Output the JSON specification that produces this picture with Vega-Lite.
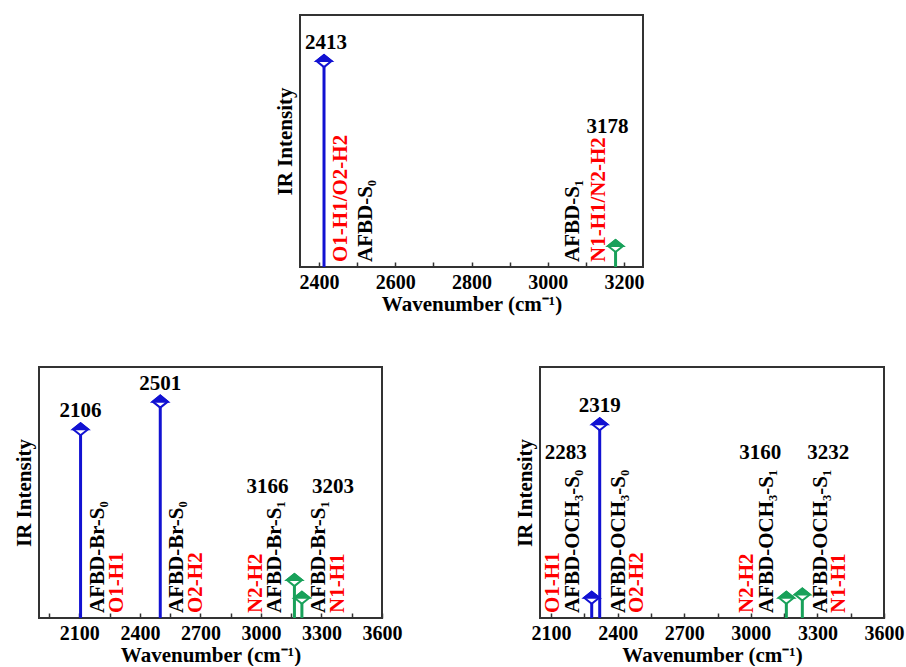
{
  "$schema": "https://vega.github.io/schema/vega-lite/v6.json",
  "background": "white",
  "padding": {"left": 12, "top": 14, "right": 0, "bottom": 0},
  "data": {
    "values": [
      {"panel": "AFBD", "peak": 2413, "intensity": 0.817, "state": "S0", "species": "AFBD-S₀", "bond": "O1-H1/O2-H2", "side": "right"},
      {"panel": "AFBD", "peak": 3178, "intensity": 0.083, "state": "S1", "species": "AFBD-S₁", "bond": "N1-H1/N2-H2", "side": "left"},
      {"panel": "AFBD-Br", "peak": 2106, "intensity": 0.752, "state": "S0", "species": "AFBD-Br-S₀", "bond": "O1-H1", "side": "right"},
      {"panel": "AFBD-Br", "peak": 2501, "intensity": 0.862, "state": "S0", "species": "AFBD-Br-S₀", "bond": "O2-H2", "side": "right"},
      {"panel": "AFBD-Br", "peak": 3166, "intensity": 0.151, "state": "S1", "species": "AFBD-Br-S₁", "bond": "N2-H2", "side": "left"},
      {"panel": "AFBD-Br", "peak": 3203, "intensity": 0.081, "state": "S1", "species": "AFBD-Br-S₁", "bond": "N1-H1", "side": "right"},
      {"panel": "AFBD-OCH3", "peak": 2283, "intensity": 0.081, "state": "S0", "species": "AFBD-OCH₃-S₀", "bond": "O1-H1", "side": "left"},
      {"panel": "AFBD-OCH3", "peak": 2319, "intensity": 0.772, "state": "S0", "species": "AFBD-OCH₃-S₀", "bond": "O2-H2", "side": "right"},
      {"panel": "AFBD-OCH3", "peak": 3160, "intensity": 0.081, "state": "S1", "species": "AFBD-OCH₃-S₁", "bond": "N2-H2", "side": "left"},
      {"panel": "AFBD-OCH3", "peak": 3232, "intensity": 0.094, "state": "S1", "species": "AFBD-OCH₃-S₁", "bond": "N1-H1", "side": "right"}
    ]
  },
  "spacing": 51,
  "vconcat": [
    {
      "bounds": "flush",
      "spacing": 159,
      "hconcat": [
        {
          "width": 102,
          "height": 252,
          "data": {"values": []},
          "mark": {"type": "point", "opacity": 0},
          "view": {"stroke": null}
        },
        {
          "width": 343,
          "height": 252,
          "transform": [{"filter": "datum.panel === 'AFBD'"}],
          "encoding": {
            "x": {"field": "peak", "type": "quantitative", "scale": {"domain": [2350, 3250], "nice": false, "zero": false},
                  "axis": {"title": "Wavenumber (cm⁻¹)", "format": "d", "values": [2400, 2500, 2600, 2700, 2800, 2900, 3000, 3100, 3200], "labelExpr": "datum.value % 200 === 0 ? datum.label : ''"}},
            "y": {"field": "intensity", "type": "quantitative", "scale": {"domain": [0, 1], "nice": false}, "axis": {"title": "IR Intensity"}}
          },
          "layer": [
            {"mark": {"type": "rule", "strokeWidth": 3}, "encoding": {"y2": {"datum": 0}, "color": {"field": "state", "type": "nominal", "scale": {"domain": ["S0", "S1"], "range": ["#1212D2", "#19A15A"]}, "legend": null}}},
            {"mark": {"type": "point", "shape": "M0,-0.8L1,0L0,0.8L-1,0Z", "filled": true, "fill": "white", "strokeWidth": 2, "size": 225, "opacity": 1}, "encoding": {"stroke": {"field": "state", "type": "nominal", "scale": {"domain": ["S0", "S1"], "range": ["#1212D2", "#19A15A"]}, "legend": null}}},
            {"mark": {"type": "point", "shape": "M-1,0L0,-0.8L1,0Z", "filled": true, "strokeWidth": 2, "size": 225, "opacity": 1}, "encoding": {"fill": {"field": "state", "type": "nominal", "scale": {"domain": ["S0", "S1"], "range": ["#1212D2", "#19A15A"]}, "legend": null}, "stroke": {"field": "state", "type": "nominal", "legend": null}}},
            {"transform": [{"filter": "datum.side === 'right'"}], "mark": {"type": "text", "angle": 270, "align": "left", "baseline": "middle", "dx": 5, "dy": 16.5, "color": "#FF0000"}, "encoding": {"y": {"datum": 0}, "text": {"field": "bond"}}},
            {"transform": [{"filter": "datum.side === 'right'"}], "mark": {"type": "text", "angle": 270, "align": "left", "baseline": "middle", "dx": 5, "dy": 42, "color": "#000000"}, "encoding": {"y": {"datum": 0}, "text": {"field": "species"}}},
            {"transform": [{"filter": "datum.side === 'left'"}], "mark": {"type": "text", "angle": 270, "align": "left", "baseline": "middle", "dx": 5, "dy": -17, "color": "#FF0000"}, "encoding": {"y": {"datum": 0}, "text": {"field": "bond"}}},
            {"transform": [{"filter": "datum.side === 'left'"}], "mark": {"type": "text", "angle": 270, "align": "left", "baseline": "middle", "dx": 5, "dy": -43, "color": "#000000"}, "encoding": {"y": {"datum": 0}, "text": {"field": "species"}}},
            {"transform": [{"filter": "datum.intensity > 0.5"}], "mark": {"type": "text", "baseline": "alphabetic", "dy": -12, "dx": 2, "color": "#000000"}, "encoding": {"text": {"field": "peak", "type": "quantitative", "format": "d"}}},
            {"transform": [{"filter": "datum.intensity <= 0.5"}], "mark": {"type": "text", "baseline": "alphabetic", "dx": -8, "color": "#000000"}, "encoding": {"y": {"datum": 0.533}, "text": {"field": "peak", "type": "quantitative", "format": "d"}}}
          ]
        }
      ]
    },
    {
      "bounds": "flush",
      "spacing": 158,
      "hconcat": [
        {
          "width": 343,
          "height": 251,
          "transform": [{"filter": "datum.panel === 'AFBD-Br'"}],
          "encoding": {
            "x": {"field": "peak", "type": "quantitative", "scale": {"domain": [1900, 3600], "nice": false, "zero": false},
                  "axis": {"title": "Wavenumber (cm⁻¹)", "format": "d", "values": [1950, 2100, 2250, 2400, 2550, 2700, 2850, 3000, 3150, 3300, 3450, 3600], "labelExpr": "datum.value % 300 === 0 ? datum.label : ''"}},
            "y": {"field": "intensity", "type": "quantitative", "scale": {"domain": [0, 1], "nice": false}, "axis": {"title": "IR Intensity"}}
          },
          "layer": [
            {"mark": {"type": "rule", "strokeWidth": 3}, "encoding": {"y2": {"datum": 0}, "color": {"field": "state", "type": "nominal", "scale": {"domain": ["S0", "S1"], "range": ["#1212D2", "#19A15A"]}, "legend": null}}},
            {"mark": {"type": "point", "shape": "M0,-0.8L1,0L0,0.8L-1,0Z", "filled": true, "fill": "white", "strokeWidth": 2, "size": 225, "opacity": 1}, "encoding": {"stroke": {"field": "state", "type": "nominal", "scale": {"domain": ["S0", "S1"], "range": ["#1212D2", "#19A15A"]}, "legend": null}}},
            {"mark": {"type": "point", "shape": "M-1,0L0,-0.8L1,0Z", "filled": true, "strokeWidth": 2, "size": 225, "opacity": 1}, "encoding": {"fill": {"field": "state", "type": "nominal", "scale": {"domain": ["S0", "S1"], "range": ["#1212D2", "#19A15A"]}, "legend": null}, "stroke": {"field": "state", "type": "nominal", "legend": null}}},
            {"transform": [{"filter": "datum.side === 'right'"}], "mark": {"type": "text", "angle": 270, "align": "left", "baseline": "middle", "dx": 5, "dy": 17, "color": "#000000"}, "encoding": {"y": {"datum": 0}, "text": {"field": "species"}}},
            {"transform": [{"filter": "datum.side === 'right'"}], "mark": {"type": "text", "angle": 270, "align": "left", "baseline": "middle", "dx": 5, "dy": 36, "color": "#FF0000"}, "encoding": {"y": {"datum": 0}, "text": {"field": "bond"}}},
            {"transform": [{"filter": "datum.side === 'left'"}], "mark": {"type": "text", "angle": 270, "align": "left", "baseline": "middle", "dx": 5, "dy": -19, "color": "#000000"}, "encoding": {"y": {"datum": 0}, "text": {"field": "species"}}},
            {"transform": [{"filter": "datum.side === 'left'"}], "mark": {"type": "text", "angle": 270, "align": "left", "baseline": "middle", "dx": 5, "dy": -38, "color": "#FF0000"}, "encoding": {"y": {"datum": 0}, "text": {"field": "bond"}}},
            {"transform": [{"filter": "datum.intensity > 0.5"}], "mark": {"type": "text", "baseline": "alphabetic", "dy": -12, "color": "#000000"}, "encoding": {"text": {"field": "peak", "type": "quantitative", "format": "d"}}},
            {"transform": [{"filter": "datum.intensity <= 0.5 && datum.side === 'left'"}], "mark": {"type": "text", "baseline": "alphabetic", "align": "right", "dx": -6, "color": "#000000"}, "encoding": {"y": {"datum": 0.499}, "text": {"field": "peak", "type": "quantitative", "format": "d"}}},
            {"transform": [{"filter": "datum.intensity <= 0.5 && datum.side === 'right'"}], "mark": {"type": "text", "baseline": "alphabetic", "align": "left", "dx": 10, "color": "#000000"}, "encoding": {"y": {"datum": 0.499}, "text": {"field": "peak", "type": "quantitative", "format": "d"}}}
          ]
        },
        {
          "width": 344,
          "height": 251,
          "transform": [{"filter": "datum.panel === 'AFBD-OCH3'"}],
          "encoding": {
            "x": {"field": "peak", "type": "quantitative", "scale": {"domain": [2050, 3600], "nice": false, "zero": false},
                  "axis": {"title": "Wavenumber (cm⁻¹)", "format": "d", "values": [2100, 2250, 2400, 2550, 2700, 2850, 3000, 3150, 3300, 3450, 3600], "labelExpr": "datum.value % 300 === 0 ? datum.label : ''"}},
            "y": {"field": "intensity", "type": "quantitative", "scale": {"domain": [0, 1], "nice": false}, "axis": {"title": "IR Intensity"}}
          },
          "layer": [
            {"mark": {"type": "rule", "strokeWidth": 3}, "encoding": {"y2": {"datum": 0}, "color": {"field": "state", "type": "nominal", "scale": {"domain": ["S0", "S1"], "range": ["#1212D2", "#19A15A"]}, "legend": null}}},
            {"mark": {"type": "point", "shape": "M0,-0.8L1,0L0,0.8L-1,0Z", "filled": true, "fill": "white", "strokeWidth": 2, "size": 225, "opacity": 1}, "encoding": {"stroke": {"field": "state", "type": "nominal", "scale": {"domain": ["S0", "S1"], "range": ["#1212D2", "#19A15A"]}, "legend": null}}},
            {"mark": {"type": "point", "shape": "M-1,0L0,-0.8L1,0Z", "filled": true, "strokeWidth": 2, "size": 225, "opacity": 1}, "encoding": {"fill": {"field": "state", "type": "nominal", "scale": {"domain": ["S0", "S1"], "range": ["#1212D2", "#19A15A"]}, "legend": null}, "stroke": {"field": "state", "type": "nominal", "legend": null}}},
            {"transform": [{"filter": "datum.side === 'right'"}], "mark": {"type": "text", "angle": 270, "align": "left", "baseline": "middle", "dx": 5, "dy": 19, "color": "#000000"}, "encoding": {"y": {"datum": 0}, "text": {"field": "species"}}},
            {"transform": [{"filter": "datum.side === 'right'"}], "mark": {"type": "text", "angle": 270, "align": "left", "baseline": "middle", "dx": 5, "dy": 37, "color": "#FF0000"}, "encoding": {"y": {"datum": 0}, "text": {"field": "bond"}}},
            {"transform": [{"filter": "datum.side === 'left'"}], "mark": {"type": "text", "angle": 270, "align": "left", "baseline": "middle", "dx": 5, "dy": -19, "color": "#000000"}, "encoding": {"y": {"datum": 0}, "text": {"field": "species"}}},
            {"transform": [{"filter": "datum.side === 'left'"}], "mark": {"type": "text", "angle": 270, "align": "left", "baseline": "middle", "dx": 5, "dy": -39, "color": "#FF0000"}, "encoding": {"y": {"datum": 0}, "text": {"field": "bond"}}},
            {"transform": [{"filter": "datum.intensity > 0.5"}], "mark": {"type": "text", "baseline": "alphabetic", "dy": -12, "color": "#000000"}, "encoding": {"text": {"field": "peak", "type": "quantitative", "format": "d"}}},
            {"transform": [{"filter": "datum.intensity <= 0.5 && datum.side === 'left'"}], "mark": {"type": "text", "baseline": "alphabetic", "align": "right", "dx": -5, "color": "#000000"}, "encoding": {"y": {"datum": 0.633}, "text": {"field": "peak", "type": "quantitative", "format": "d"}}},
            {"transform": [{"filter": "datum.intensity <= 0.5 && datum.side === 'right'"}], "mark": {"type": "text", "baseline": "alphabetic", "align": "left", "dx": 5, "color": "#000000"}, "encoding": {"y": {"datum": 0.633}, "text": {"field": "peak", "type": "quantitative", "format": "d"}}}
          ]
        }
      ]
    }
  ],
  "config": {
    "view": {"stroke": "#333333", "strokeWidth": 2},
    "font": "Liberation Serif",
    "axis": {
      "grid": false,
      "domain": false,
      "labelFont": "Liberation Serif",
      "labelFontWeight": "bold",
      "labelFontSize": 20,
      "labelColor": "#000000",
      "titleFont": "Liberation Serif",
      "titleFontWeight": "bold",
      "titleFontSize": 21,
      "titleColor": "#000000"
    },
    "axisX": {"tickSize": -5, "tickColor": "#333333", "tickWidth": 1.5, "labelPadding": 10, "titlePadding": 1, "labelFlush": false, "labelOverlap": false},
    "axisY": {"labels": false, "ticks": false, "titlePadding": 5},
    "text": {"font": "Liberation Serif", "fontWeight": "bold", "fontSize": 21}
  }
}
